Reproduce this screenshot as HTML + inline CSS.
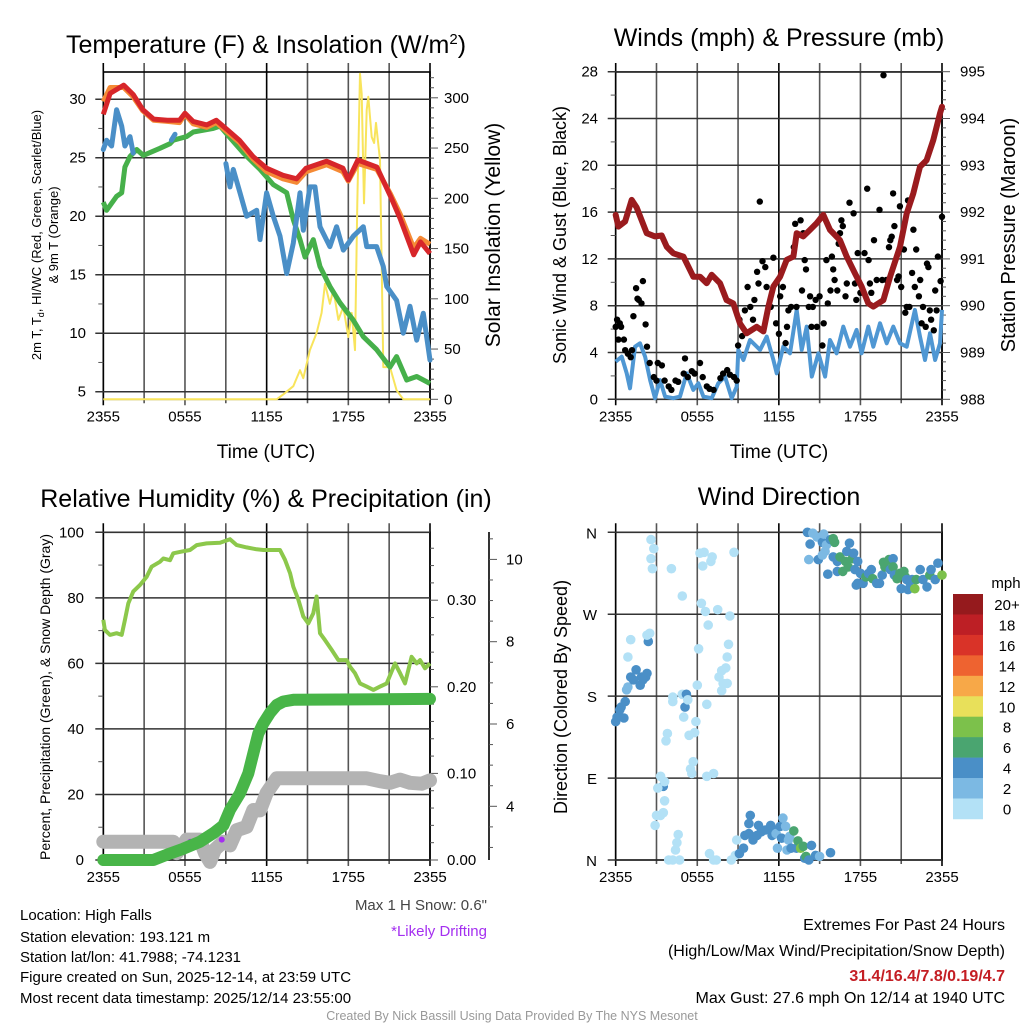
<!DOCTYPE html>
<html><head><meta charset="utf-8"><style>
html,body{margin:0;padding:0;background:#fff;}
svg{display:block;font-family:"Liberation Sans",Arial,sans-serif;}
</style></head><body>
<svg id="s" width="1024" height="1024" viewBox="0 0 1024 1024" xmlns="http://www.w3.org/2000/svg">
<rect width="1024" height="1024" fill="#fff"/>
<text x="266" y="53" font-size="25" text-anchor="middle">Temperature (F) &amp; Insolation (W/m<tspan font-size="15" dy="-9">2</tspan><tspan dy="9">)</tspan></text>
<text x="779" y="46" font-size="25" text-anchor="middle">Winds (mph) &amp; Pressure (mb)</text>
<text x="266" y="507" font-size="25" text-anchor="middle">Relative Humidity (%) &amp; Precipitation (in)</text>
<text x="779" y="505" font-size="25" text-anchor="middle">Wind Direction</text>
<text x="266" y="458" font-size="19" text-anchor="middle">Time (UTC)</text>
<text x="779" y="458" font-size="19" text-anchor="middle">Time (UTC)</text>
<text transform="translate(41,235) rotate(-90)" font-size="13" text-anchor="middle">2m T, T<tspan font-size="9" dy="3">d</tspan><tspan dy="-3">, HI/WC (Red, Green, Scarlet/Blue)</tspan></text>
<text transform="translate(58,235) rotate(-90)" font-size="13" text-anchor="middle">&amp; 9m T (Orange)</text>
<text transform="translate(500,235) rotate(-90)" font-size="21" text-anchor="middle">Solar Insolation (Yellow)</text>
<text transform="translate(566,235) rotate(-90)" font-size="18" text-anchor="middle">Sonic Wind &amp; Gust (Blue, Black)</text>
<text transform="translate(1015,235) rotate(-90)" font-size="20" text-anchor="middle">Station Pressure (Maroon)</text>
<text transform="translate(50,697) rotate(-90)" font-size="14" text-anchor="middle">Percent, Precipitation (Green), &amp; Snow Depth (Gray)</text>
<text transform="translate(567,697) rotate(-90)" font-size="18" text-anchor="middle">Direction (Colored By Speed)</text>
<g font-size="15">
<text x="20" y="920">Location: High Falls</text>
<text x="20" y="942">Station elevation: 193.121 m</text>
<text x="20" y="962">Station lat/lon: 41.7988; -74.1231</text>
<text x="20" y="982">Figure created on Sun, 2025-12-14, at 23:59 UTC</text>
<text x="20" y="1003">Most recent data timestamp: 2025/12/14 23:55:00</text>
</g>
<text x="487" y="910" font-size="15" fill="#444" text-anchor="end">Max 1 H Snow: 0.6"</text>
<text x="487" y="936" font-size="15" fill="#a42ff0" text-anchor="end">*Likely Drifting</text>
<g font-size="16" text-anchor="end">
<text x="1005" y="930">Extremes For Past 24 Hours</text>
<text x="1005" y="956">(High/Low/Max Wind/Precipitation/Snow Depth)</text>
<text x="1005" y="981" fill="#c41e24" font-weight="bold">31.4/16.4/7.8/0.19/4.7</text>
<text x="1005" y="1003">Max Gust: 27.6 mph On 12/14 at 1940 UTC</text>
</g>
<text x="512" y="1020" font-size="12.5" fill="#999" text-anchor="middle">Created By Nick Bassill Using Data Provided By The NYS Mesonet</text>
<g id="g"></g>
</svg>
<script>
// ---------- data ----------
const xTickLabels=["2355","0555","1155","1755","2355"];
const tempTicks=[5,10,15,20,25,30];
const solarTicks=[0,50,100,150,200,250,300];
const windTicks=[0,4,8,12,16,20,24,28];
const presTicks=[988,989,990,991,992,993,994,995];
const rhTicks=[0,20,40,60,80,100];
const precipTicks=["0.00","0.10","0.20","0.30"];
const snowTicks=[4,6,8,10];
const dirLabels=["N","E","S","W","N"];
const speedLabels=["0","2","4","6","8","10","12","14","16","18","20+"];
const speedColors=["#b3e1f6","#7cb9e3","#4a8fc7","#4aa570","#7cc14b","#e8e05a","#f7a848","#ee6330","#d93328","#bd1f25","#951a1d"];

const redH=[0,0.5,1.5,2.2,2.9,3.7,4.7,5.6,6.0,6.6,7.6,8.3,9.1,10.0,11.0,12.0,13.2,14.2,14.9,16.4,17.6,18.0,18.7,20.1,21.1,21.8,22.8,23.3,24];
const redV=[28.7,30.5,31.2,30.4,29.1,28.3,28.2,28.2,28.8,28.1,27.8,28.2,27.4,26.5,25.1,24.1,23.5,23.2,24.1,24.7,24.1,23.1,24.8,24.2,21.7,19.8,16.7,17.8,16.8];
const orangeV=[29.8,31.0,31.0,30.2,29.0,28.2,28.1,28.0,28.7,27.9,27.6,28.0,27.2,26.3,24.9,23.8,23.2,22.9,23.8,24.4,23.8,23.0,24.5,24.0,21.9,20.2,17.3,18.1,17.6];
const dewH=[0,0.24,0.98,1.35,1.59,1.96,2.45,2.94,4.16,4.9,5.14,6.12,6.61,8.08,8.57,9.31,10.29,11.51,12.49,13.47,13.96,14.45,14.82,15.43,15.92,16.65,17.39,18.37,19.1,20.08,21.06,21.55,22.29,23.02,24];
const dewV=[21.2,20.5,21.7,22.0,24.2,25.1,25.7,25.2,25.8,26.2,26.5,26.8,27.2,27.5,27.7,26.7,25.4,24.0,22.7,22.0,19.7,18.0,16.5,18.0,15.7,14.0,12.6,11.1,9.7,8.6,7.1,8.0,6.0,6.3,5.7];
const wcH=[0,0.24,0.61,0.98,1.22,1.35,1.59,1.96,2.2,null,5.0,5.27,null,9.01,9.31,9.55,10.04,10.53,11.27,11.51,12.0,12.49,12.98,13.47,13.96,14.45,14.69,15.18,15.55,15.92,16.65,17.14,17.63,18.37,19.1,19.35,20.08,20.57,20.82,21.55,22.04,22.53,23.02,23.51,24];
const wcV=[25.7,26.5,26.0,29.1,28.2,27.7,26.0,26.8,25.4,null,26.5,27.0,null,24.5,22.5,24.0,22.0,20.0,20.5,18.0,22.0,20.0,18.3,15.1,17.7,22.0,18.8,22.5,22.5,19.1,17.4,19.1,17.1,18.3,19.1,17.4,17.4,15.7,14.0,12.8,10.0,12.3,9.4,11.7,7.7];
const solarH=[0,12.74,13.23,13.96,14.45,14.69,15.18,15.67,16.04,16.29,16.65,16.9,17.27,17.63,18.0,18.25,18.49,18.66,18.86,18.98,19.15,19.35,19.47,19.72,19.89,20.03,20.33,20.57,21.06,21.55,22.04,24];
const solarV=[0,0,5,13,29,21,49,66,86,115,95,109,79,92,62,86,49,195,324,304,195,288,301,261,255,275,238,32,32,9,0,0];

const presH=[0,0.2,0.69,1.18,1.54,2.28,2.89,3.38,3.75,4.24,4.98,5.71,6.2,6.69,7.06,7.67,8.16,8.65,9.14,9.63,10.37,10.86,11.23,11.6,12.09,12.58,13.07,13.31,13.8,14.29,14.78,15.27,15.76,16.5,16.99,17.6,18.09,18.58,18.95,19.69,20.18,20.91,21.4,21.89,22.38,22.87,23.36,23.85,24];
const presV=[991.94,991.69,991.8,992.26,992.1,991.55,991.48,991.5,991.26,991.12,991.05,990.62,990.62,990.48,990.66,990.48,990.12,990.05,989.62,989.41,989.55,989.45,989.98,990.41,990.62,990.98,991.05,991.55,991.48,991.62,991.76,991.94,991.62,991.4,991.05,990.69,990.41,990.05,989.98,990.12,990.62,991.26,991.97,992.4,992.97,993.11,993.54,994.11,994.25];
const sonicH=[0,0.44,0.81,1.05,1.42,1.79,2.16,2.53,2.89,3.26,3.63,4.24,4.73,5.22,5.71,6.08,6.45,7.06,7.55,8.04,8.53,8.9,9.02,9.39,9.88,10.62,11.11,11.6,11.84,12.33,12.82,13.31,13.68,14.05,14.42,14.91,15.4,15.76,16.25,16.74,17.23,17.72,18.09,18.58,18.95,19.44,19.93,20.42,20.91,21.4,22.01,22.38,22.75,23.12,23.49,23.85,24];
const sonicV=[3.22,3.65,2.22,0.94,4.5,4.79,3.65,1.65,0.09,1.65,0.23,0.09,0.23,2.22,0.8,1.37,0.23,0.09,1.37,1.94,0.09,1.08,4.22,3.36,5.07,4.22,5.36,3.36,2.22,4.5,3.93,7.64,4.22,6.21,1.94,3.93,1.94,5.07,3.93,6.21,4.5,5.93,3.93,6.21,4.5,6.5,4.79,6.21,4.79,4.5,7.64,5.36,3.36,5.64,3.36,4.79,7.64];
const gustH=[0,0.1,0.2,0.3,0.4,0.6,0.7,0.9,1.1,1.2,1.3,1.5,1.6,1.7,1.9,2.0,2.2,2.3,2.5,2.8,3.0,3.1,3.4,3.6,3.9,4.1,4.4,4.6,5.0,5.1,5.3,5.6,5.8,6.2,6.4,6.7,6.9,7.2,7.7,7.9,8.2,8.4,8.7,8.9,9.0,9.1,9.3,9.5,9.7,9.9,10.1,10.2,10.4,10.5,10.6,10.8,11.0,11.1,11.4,11.6,11.8,12.0,12.1,12.3,12.5,12.6,12.7,12.9,13.1,13.2,13.3,13.6,13.7,13.8,13.9,14.0,14.2,14.3,14.4,14.5,14.7,14.8,15.0,15.2,15.3,15.5,15.6,15.8,15.9,16.0,16.1,16.3,16.4,16.5,16.6,16.7,16.9,17.0,17.2,17.5,17.6,17.7,17.8,18.0,18.3,18.5,18.6,18.7,18.8,19.0,19.2,19.4,19.6,19.7,19.9,20.1,20.2,20.3,20.4,20.5,20.7,20.8,20.9,21.0,21.2,21.3,21.4,21.5,21.6,21.8,21.9,22.0,22.1,22.3,22.4,22.5,22.6,22.8,22.9,23.0,23.1,23.2,23.4,23.5,23.6,23.7,23.9,24.0];
const gustV=[6.2,6.8,5.1,6.5,6.2,5.1,4.2,3.9,3.6,4.2,7.1,9.5,8.6,8.5,8.2,10.1,6.4,4.5,3.1,1.9,1.6,3.1,2.9,1.6,1.1,0.8,1.6,1.5,2.2,3.5,1.9,2.4,2.2,3.1,1.9,1.1,0.9,0.8,1.8,2.2,2.5,2.1,1.9,1.6,4.6,6.8,5.4,7.6,9.6,7.9,6.8,8.5,10.9,9.9,16.9,11.8,11.3,9.6,7.9,12.1,6.5,5.6,8.8,9.6,4.8,6.2,7.6,7.9,13.0,15.0,7.9,15.3,9.3,14.2,11.9,11.1,7.9,8.8,6.2,7.9,8.5,6.2,8.8,4.6,6.5,11.9,8.2,9.3,12.2,11.1,10.2,9.3,13.3,14.2,15.3,14.8,8.8,9.9,16.8,15.9,9.9,8.5,12.5,9.1,12.5,18.0,11.9,9.9,9.1,13.6,10.2,16.2,10.2,27.7,10.2,13.0,13.6,13.9,17.6,14.8,10.2,10.5,16.5,9.6,12.8,7.4,7.9,17.0,7.9,10.8,14.5,9.6,12.8,8.8,10.2,6.5,7.9,6.2,11.6,11.3,7.6,6.8,5.9,9.3,7.6,12.2,10.1,15.6];

const rhH=[0,0.12,0.49,0.98,1.35,1.59,1.84,2.2,2.69,3.18,3.55,4.16,4.41,4.9,5.14,5.76,6.37,6.86,7.59,8.57,9.31,9.8,10.53,11.27,11.76,12.25,12.98,13.35,13.72,13.96,14.33,14.69,15.06,15.43,15.67,15.92,16.29,16.78,17.27,17.88,18.12,18.49,18.86,19.35,19.84,20.33,20.82,21.43,21.8,22.16,22.65,23.02,23.27,23.63,24];
const rhV=[73.3,70.2,68.7,69.2,68.7,73.2,78.3,81.9,83.9,86.4,89.5,91.0,92.0,91.5,93.6,94.1,94.6,96.1,96.6,96.8,97.9,96.1,95.4,94.8,94.6,94.6,94.6,91.6,87.5,83.4,79.4,74.3,72.2,75.3,80.4,69.2,67.1,64.1,61.0,61.0,59.0,57.0,53.9,52.9,51.9,52.9,53.9,60.0,57.0,53.9,62.0,60.0,61.0,58.5,60.0];
const precipH=[0,3.67,4.65,5.88,7.1,8.08,8.82,9.31,10.04,10.65,11.02,11.39,11.76,12.25,12.74,13.23,13.96,24];
const precipV=[0,0,0.006,0.013,0.021,0.031,0.040,0.058,0.077,0.100,0.123,0.146,0.158,0.170,0.179,0.183,0.185,0.186];
const snowH=[0,5.14,5.39,6.12,7.1,7.47,7.84,8.2,8.82,9.31,9.8,10.53,11.02,11.51,12.0,12.74,19.35,20.33,21.06,21.8,22.53,23.39,24];
const snowV=[3.14,3.14,2.86,3.19,3.19,2.86,2.65,2.95,3.14,3.05,3.42,3.5,3.91,3.9,4.32,4.68,4.68,4.61,4.57,4.65,4.57,4.55,4.63];
const driftH=[6.4,6.6,8.7];
const driftV=[3.14,3.14,3.19];

const dirH=[0,0.1,0.3,0.4,0.6,0.7,0.8,0.9,1.1,1.3,1.5,1.8,1.9,2.2,2.3,2.0,2.4,2.5,2.3,1.1,0.9,
2.6,2.8,2.6,2.7,4.1,4.9,3.3,3.5,3.6,3.1,3.6,3.0,3.3,3.5,2.9,3.8,3.7,4.6,4.5,4.4,3.9,4.2,4.7,4.2,4.2,4.9,5.2,5.1,5.3,5.0,5.9,5.8,5.4,5.7,5.5,5.6,6.7,7.2,6.0,6.7,6.1,6.3,6.6,6.8,7.5,8.4,6.2,6.5,6.4,7.1,7.0,8.7,8.3,8.2,8.1,7.8,7.6,7.9,8.2,7.8,6.9,7.2,7.4,8.5,8.8,8.9,
9.1,9.4,9.5,9.8,9.9,9.8,10.1,10.4,10.5,10.7,11.0,11.4,11.5,11.6,11.8,11.9,12.1,12.2,12.3,12.5,12.6,12.7,12.8,12.9,13.1,13.3,13.4,13.6,13.8,13.9,14.0,14.2,14.4,14.7,15.0,15.8,
14.1,14.3,14.2,14.5,14.8,14.9,15.2,15.3,15.5,15.4,15.2,15.6,15.8,16.0,16.1,16.0,16.3,16.3,16.5,16.7,17.0,16.9,17.1,17.2,17.4,17.5,17.6,17.8,18.0,17.7,17.8,18.2,18.4,18.6,18.8,18.9,19.2,19.4,19.6,19.7,19.8,20.1,20.2,20.4,20.4,20.5,20.7,20.9,21.0,21.2,21.3,21.4,21.5,21.6,21.8,22.0,22.1,22.4,22.6,22.9,23.1,23.2,23.5,23.7,24.0];
const dirV=[152,157,165,168,156,174,187,190,201,198,209,192,201,201,205,198,240,249,247,242,223,
352,342,331,320,320,290,92,81,86,79,65,49,49,52,38,139,131,28,19,11,0,0,0,179,174,182,182,168,176,157,152,140,137,108,100,95,92,95,192,171,232,282,273,258,275,268,337,338,323,333,328,338,237,223,211,208,201,194,194,186,7,0,0,0,5,22,
7,13,27,29,49,40,22,27,38,31,33,38,27,33,29,13,37,24,46,37,11,22,26,13,32,13,21,13,15,2,4,0,16,5,4,8,
360,347,330,359,355,330,349,358,346,339,335,314,352,353,349,333,328,317,333,317,339,328,322,348,331,337,319,328,315,302,304,304,311,315,319,309,304,304,313,327,322,330,319,331,322,313,309,315,298,317,311,308,297,306,308,298,308,319,308,300,313,319,308,326,313];
const dirSpeed=[5,5,5,5,5,5,3,3,5,5,5,5,5,5,5,5,5,1,1,1,1,
1,1,1,1,1,1,1,5,1,1,1,1,1,1,1,1,1,1,1,1,1,1,1,1,1,1,5,5,1,1,1,1,1,1,1,1,1,1,1,1,1,1,1,1,1,1,1,1,1,1,1,1,1,1,1,1,1,1,1,1,1,1,1,1,1,1,
5,5,5,5,5,5,5,5,5,5,5,5,5,5,3,3,5,5,3,3,3,3,3,5,7,5,7,9,7,5,7,5,5,5,3,5,
5,5,3,3,3,5,5,3,3,3,3,5,5,7,7,5,5,5,7,7,5,7,7,5,7,5,5,5,5,5,5,5,7,5,5,7,5,5,5,7,7,7,5,5,7,5,7,7,5,7,7,5,5,5,5,9,7,5,5,5,7,5,5,5,9];

// ---------- drawing ----------
const NS="http://www.w3.org/2000/svg";
const G=document.getElementById('g');
const TF=15;
function el(tag,attrs,parent){const e=document.createElementNS(NS,tag);for(const k in attrs)e.setAttribute(k,attrs[k]);(parent||G).appendChild(e);return e;}
function txt(x,y,s,size,anchor,parent){const t=el('text',{x:x,y:y,'font-size':size,'text-anchor':anchor},parent);t.textContent=s;return t;}
function linePath(H,V,X,Y){let d='',pen=false;for(let i=0;i<Math.min(H.length,V.length);i++){if(H[i]===null||V[i]===null){pen=false;continue;}d+=(pen?'L':'M')+X(H[i]).toFixed(1)+','+Y(V[i]).toFixed(1);pen=true;}return d;}

function frame(px0,px1,py0,py1,name){
  const g=el('g',{});
  
  
  for(let i=0;i<=8;i++){const x=px0+(px1-px0)*i/8;
    el('line',{x1:x,y1:py0-9,x2:x,y2:py1+(i%2==0?6:4),stroke:i%4==0?'#000':'#555','stroke-width':1.6},g);}
  el('rect',{x:px0,y:py0,width:px1-px0,height:py1-py0,fill:'none',stroke:'#000','stroke-width':1.6},g);
  xTickLabels.forEach((s,i)=>{const t=txt(px0+(px1-px0)*i/4,py1+22,s,TF,'middle',g);
    });
  return g;
}
function hGrid(g,px0,px1,y,ext){el('line',{x1:px0-8,y1:y,x2:px1+(ext||0),y2:y,stroke:'#333','stroke-width':1.5},g);}

// ===== Panel 1: temperature =====
const A={x0:103.3,x1:430};
const X1=h=>A.x0+h*(A.x1-A.x0)/24;
const YT=v=>391.7-(v-5)*11.7;
const YS=w=>399.3-w*1.005;
{
 const g=frame(A.x0,A.x1,72,399.3,'temperature-plot');
 tempTicks.forEach(v=>{hGrid(g,A.x0,A.x1,YT(v));const t=txt(86,YT(v)+5,String(v),TF,'end',g);});
 for(let v=7.5;v<32;v+=5)el('line',{x1:A.x0-5,y1:YT(v),x2:A.x0,y2:YT(v),stroke:'#555'},g);
 for(let w=0;w<=320;w+=10)el('line',{x1:A.x1,y1:YS(w),x2:A.x1+(w%50==0?8:4),y2:YS(w),stroke:'#555','stroke-width':1},g);
 solarTicks.forEach(w=>{const t=txt(444,YS(w)+5,String(w),TF,'start',g);});
 const s=el('path',{d:linePath(solarH,solarV,X1,YS),fill:'none',stroke:'#f8e45c','stroke-width':2,'stroke-linejoin':'round'},g);
 
 const dw=el('path',{d:linePath(dewH,dewV,X1,YT),fill:'none',stroke:'#46b04a','stroke-width':5,'stroke-linejoin':'round'},g);
 
 const wc=el('path',{d:linePath(wcH,wcV,X1,YT),fill:'none',stroke:'#4a8fc7','stroke-width':5,'stroke-linejoin':'round','stroke-linecap':'round'},g);
 
 const o=el('path',{d:linePath(redH,orangeV,X1,YT),fill:'none',stroke:'#f58a35','stroke-width':5,'stroke-linejoin':'round'},g);
 
 const r=el('path',{d:linePath(redH,redV,X1,YT),fill:'none',stroke:'#d7262a','stroke-width':5,'stroke-linejoin':'round'},g);
 
}
// ===== Panel 2: winds =====
const B={x0:615.7,x1:942};
const X2=h=>B.x0+h*(B.x1-B.x0)/24;
const YW=v=>399.3-v*11.7;
const YP=p=>399.3-(p-988)*46.8;
{
 const g=frame(B.x0,B.x1,72,399.3,'winds-plot');
 windTicks.forEach(v=>{hGrid(g,B.x0,B.x1,YW(v));const t=txt(598,YW(v)+5,String(v),TF,'end',g);});
 for(let v=2;v<28;v+=4)el('line',{x1:B.x0-5,y1:YW(v),x2:B.x0,y2:YW(v),stroke:'#555'},g);
 for(let p=988;p<=995.01;p+=0.2)el('line',{x1:B.x1,y1:YP(p),x2:B.x1+(Math.abs(p-Math.round(p))<0.01?8:4),y2:YP(p),stroke:'#555'},g);
 presTicks.forEach(p=>{const t=txt(960,YP(p)+5,String(p),TF,'start',g);});
 const sl=el('path',{d:linePath(sonicH,sonicV,X2,YW),fill:'none',stroke:'#4f97d3','stroke-width':4,'stroke-linejoin':'round'},g);
 
 for(let i=0;i<Math.min(gustH.length,gustV.length);i++){
  const c=el('circle',{cx:X2(gustH[i]).toFixed(1),cy:YW(gustV[i]).toFixed(1),r:3.2,fill:'#000'},g);
  
  
 }
 const pl=el('path',{d:linePath(presH,presV,X2,YP),fill:'none',stroke:'#9a1b1e','stroke-width':6,'stroke-linejoin':'round','stroke-linecap':'round'},g);
 
}
// ===== Panel 3: humidity =====
const YR=v=>860-v*3.277;
const YQ=p=>860-p*866;
const YN=s=>806.3-(s-4)*41.15;
{
 const g=frame(A.x0,A.x1,532.3,860,'humidity-plot');
 rhTicks.forEach(v=>{hGrid(g,A.x0,A.x1,YR(v));const t=txt(84,YR(v)+5,String(v),TF,'end',g);});
 for(let v=10;v<100;v+=20)el('line',{x1:A.x0-5,y1:YR(v),x2:A.x0,y2:YR(v),stroke:'#555'},g);
 for(let p=0;p<=0.375;p+=0.02)el('line',{x1:A.x1,y1:YQ(p),x2:A.x1+(Math.round(p*100)%10==0?8:4),y2:YQ(p),stroke:'#555'},g);
 precipTicks.forEach(p=>{const t=txt(447,YQ(parseFloat(p))+5,p,TF,'start',g);});
 el('line',{x1:489,y1:532,x2:489,y2:860,stroke:'#000','stroke-width':1.6},g);
 for(let s=3;s<=11;s+=0.5){const y=YN(s);if(y<532||y>860)continue;el('line',{x1:489,y1:y,x2:489+(s%2==0?8:4),y2:y,stroke:'#555'},g);}
 snowTicks.forEach(s=>{const t=txt(506,YN(s)+5,String(s),TF,'start',g);});
 const sn=el('path',{d:linePath(snowH,snowV,X1,YN),fill:'none',stroke:'#b3b3b3','stroke-width':14,'stroke-linejoin':'round','stroke-linecap':'round'},g);
 
 for(let i=0;i<driftH.length;i++){const d=el('circle',{cx:X1(driftH[i]),cy:YN(driftV[i]),r:3,fill:'#a42ff0'},g);
  
  }
 const pr=el('path',{d:linePath(precipH,precipV,X1,YQ),fill:'none',stroke:'#48b548','stroke-width':12,'stroke-linejoin':'round','stroke-linecap':'round'},g);
 
 const rh=el('path',{d:linePath(rhH,rhV,X1,YR),fill:'none',stroke:'#8cc84b','stroke-width':4,'stroke-linejoin':'round'},g);
 
}
// ===== Panel 4: wind direction =====
const YD=d=>860-d*(327.7/360);
{
 const g=frame(B.x0,B.x1,532.3,860,'direction-plot');
 dirLabels.forEach((s,i)=>{const y=YD(i*90);hGrid(g,B.x0,B.x1,y);const t=txt(597,y+6,s,15,'end',g);});
 const n=Math.min(dirH.length,dirV.length,dirSpeed.length);
 for(let i=0;i<n;i++){
  const bin=Math.min(10,Math.floor(dirSpeed[i]/2));
  const c=el('circle',{cx:X2(dirH[i]).toFixed(1),cy:YD(dirV[i]).toFixed(1),r:4.8,fill:speedColors[bin]},g);
  
  
 }
 const lg=el('g',{});
 
 
 txt(1006,588,'mph',15,'middle',lg);
 const top=594,bh=20.45;
 for(let i=0;i<11;i++){const k=10-i;
  const r=el('rect',{x:953,y:top+i*bh,width:30,height:bh+0.3,fill:speedColors[k]},lg);
  
  
  txt(1007,top+i*bh+16,speedLabels[k],15,'middle',lg);}
}
</script>
</body></html>
